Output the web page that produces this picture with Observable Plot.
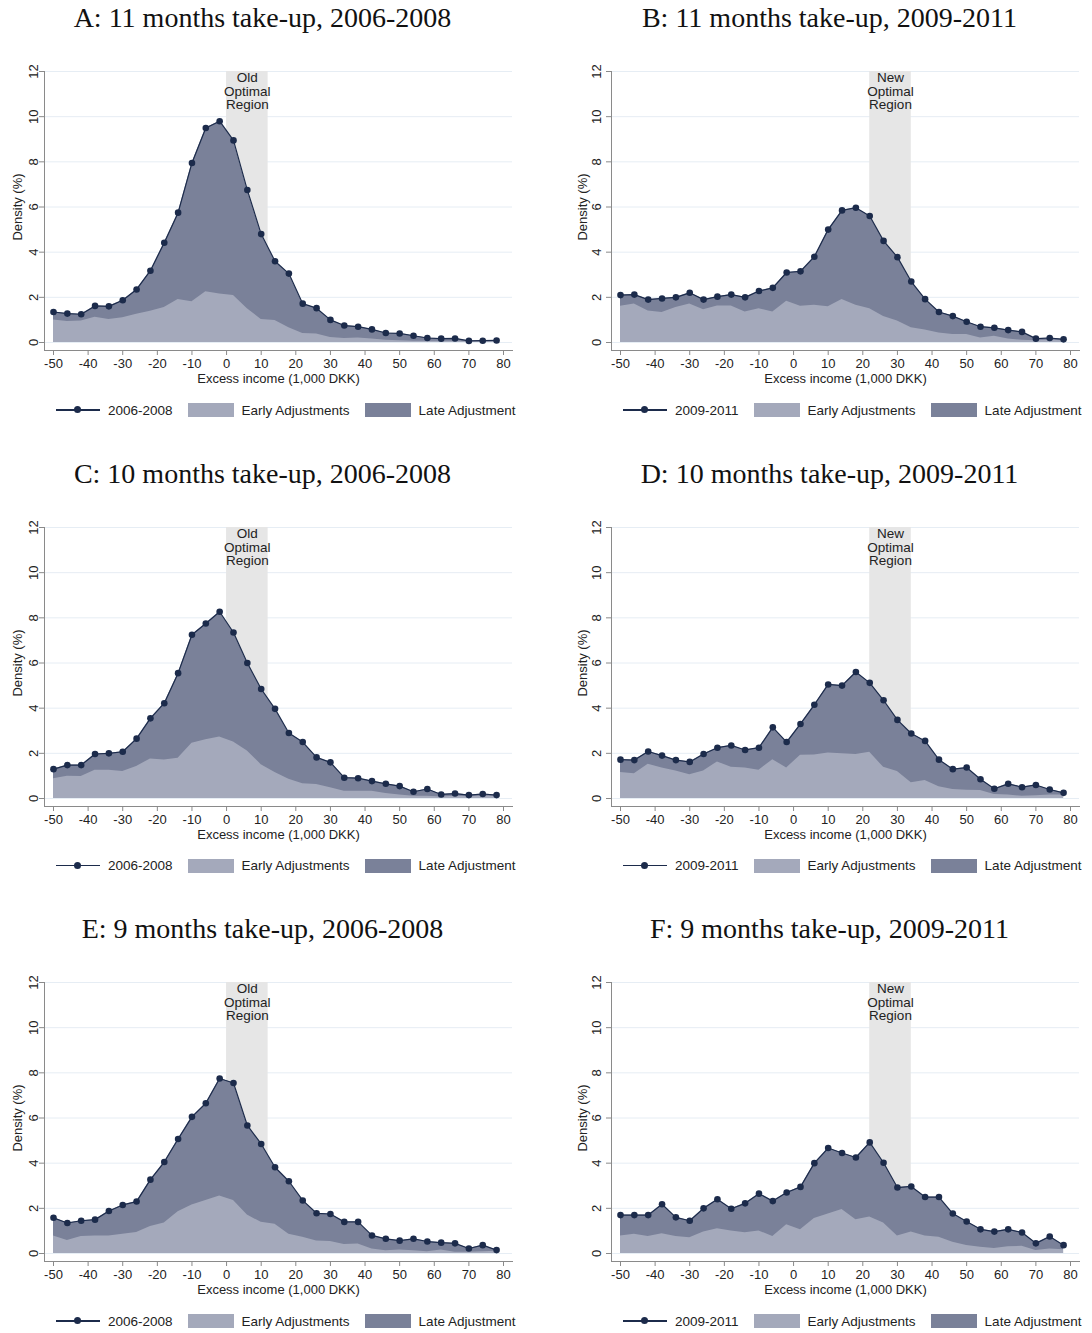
<!DOCTYPE html>
<html>
<head>
<meta charset="utf-8">
<script src="https://cdn.jsdelivr.net/npm/d3@7"></script>
<script src="https://cdn.jsdelivr.net/npm/@observablehq/plot@0.6"></script>
<style>
  body { margin: 0; background: #fff; font-family: "Liberation Sans", Arial, sans-serif; }
  #grid { position: relative; width: 1092px; height: 1333px; }
  .panel { position: absolute; width: 525px; }
  .title { font-family: "Liberation Serif", serif; font-size: 28px; text-align: center; height: 45px; line-height: 36px; color: #111; }
  .legend { display: flex; align-items: center; height: 16px; margin-top: 10px; margin-left: 56px; font-size: 13.5px; color: #222; white-space: nowrap; }
  .sym-line { position: relative; width: 44px; height: 1.4px; background: #1c2b4b; margin-right: 8px; }
  .sym-line::after { content: ""; position: absolute; left: 18px; top: -3.3px; width: 7px; height: 7px; border-radius: 50%; background: #1c2b4b; }
  .sw { width: 46px; height: 14px; margin: 0 8px 0 15px; }
</style>
</head>
<body>
<div id="grid"></div>
<script>
// bins of excess income (1,000 DKK)
const bins = [-50,-46,-42,-38,-34,-30,-26,-22,-18,-14,-10,-6,-2,2,6,10,14,18,22,26,30,34,38,42,46,50,54,58,62,66,70,74,78]
const xTicks = [-50,-40,-30,-20,-10,0,10,20,30,40,50,60,70,80]
const yTicks = [0,2,4,6,8,10,12]
const oldRegion = [0, 12]
const newRegion = [22, 34]

// A: 11 months, 2006-2008
const totalA = [1.35,1.28,1.25,1.62,1.6,1.87,2.35,3.18,4.42,5.75,7.95,9.5,9.8,8.95,6.75,4.8,3.6,3.05,1.72,1.52,1.0,0.75,0.7,0.58,0.42,0.4,0.3,0.2,0.17,0.18,0.07,0.08,0.09]
const earlyA = [1.0,0.93,0.95,1.12,1.02,1.1,1.25,1.38,1.55,1.9,1.8,2.25,2.15,2.08,1.5,1.02,0.97,0.65,0.4,0.38,0.22,0.18,0.2,0.15,0.1,0.08,0.05,0.05,0.05,0.05,0.04,0.04,0.05]
// B: 11 months, 2009-2011
const totalB = [2.1,2.12,1.9,1.95,2.0,2.2,1.9,2.03,2.12,2.0,2.28,2.42,3.1,3.15,3.8,5.0,5.85,5.97,5.6,4.5,3.78,2.7,1.92,1.35,1.17,0.92,0.7,0.65,0.55,0.47,0.17,0.2,0.14]
const earlyB = [1.6,1.7,1.4,1.33,1.55,1.7,1.45,1.62,1.62,1.35,1.5,1.35,1.83,1.6,1.65,1.58,1.9,1.65,1.5,1.15,0.95,0.65,0.55,0.42,0.35,0.35,0.2,0.28,0.15,0.1,0.08,0.1,0.08]
// C: 10 months, 2006-2008
const totalC = [1.3,1.48,1.48,1.97,2.0,2.07,2.65,3.55,4.22,5.55,7.25,7.75,8.27,7.35,6.0,4.85,3.97,2.9,2.5,1.82,1.6,0.92,0.9,0.77,0.65,0.55,0.3,0.42,0.18,0.22,0.15,0.2,0.15]
const earlyC = [0.88,0.98,0.97,1.25,1.25,1.2,1.42,1.75,1.7,1.78,2.45,2.6,2.72,2.5,2.1,1.5,1.15,0.85,0.65,0.62,0.48,0.32,0.32,0.32,0.22,0.15,0.1,0.1,0.07,0.1,0.08,0.1,0.1]
// D: 10 months, 2009-2011
const totalD = [1.72,1.7,2.08,1.9,1.7,1.62,1.97,2.25,2.35,2.15,2.25,3.15,2.5,3.3,4.15,5.05,5.0,5.6,5.12,4.35,3.48,2.88,2.55,1.72,1.3,1.37,0.85,0.43,0.65,0.5,0.6,0.4,0.25]
const earlyD = [1.15,1.1,1.52,1.35,1.22,1.05,1.22,1.62,1.38,1.35,1.25,1.72,1.35,1.92,1.93,2.02,1.98,1.95,2.05,1.38,1.2,0.7,0.8,0.52,0.4,0.37,0.35,0.18,0.15,0.1,0.12,0.15,0.15]
// E: 9 months, 2006-2008
const totalE = [1.58,1.35,1.45,1.5,1.88,2.15,2.3,3.27,4.05,5.07,6.05,6.65,7.75,7.55,5.67,4.85,3.82,3.2,2.35,1.78,1.75,1.4,1.4,0.8,0.65,0.57,0.65,0.53,0.48,0.45,0.22,0.37,0.15]
const earlyE = [0.78,0.58,0.75,0.77,0.77,0.85,0.93,1.2,1.35,1.85,2.15,2.35,2.55,2.35,1.7,1.38,1.3,0.85,0.72,0.55,0.53,0.4,0.42,0.2,0.12,0.15,0.12,0.08,0.15,0.05,0.05,0.08,0.1]
// F: 9 months, 2009-2011
const totalF = [1.7,1.7,1.7,2.18,1.6,1.45,2.0,2.4,1.98,2.22,2.65,2.32,2.7,2.95,4.0,4.67,4.45,4.25,4.92,4.02,2.92,2.97,2.5,2.5,1.77,1.42,1.07,0.97,1.07,0.93,0.45,0.75,0.37]
const earlyF = [0.78,0.85,0.75,0.88,0.75,0.7,0.95,1.1,1.0,0.92,1.0,0.75,1.27,1.05,1.55,1.75,1.95,1.5,1.62,1.35,0.78,0.95,0.78,0.72,0.5,0.35,0.28,0.22,0.3,0.32,0.13,0.2,0.17]

const panels = [
  {title: "A: 11 months take-up, 2006-2008", total: totalA, early: earlyA, period: "2006-2008", region: oldRegion, label: "Old\nOptimal\nRegion"},
  {title: "B: 11 months take-up, 2009-2011", total: totalB, early: earlyB, period: "2009-2011", region: newRegion, label: "New\nOptimal\nRegion"},
  {title: "C: 10 months take-up, 2006-2008", total: totalC, early: earlyC, period: "2006-2008", region: oldRegion, label: "Old\nOptimal\nRegion"},
  {title: "D: 10 months take-up, 2009-2011", total: totalD, early: earlyD, period: "2009-2011", region: newRegion, label: "New\nOptimal\nRegion"},
  {title: "E: 9 months take-up, 2006-2008", total: totalE, early: earlyE, period: "2006-2008", region: oldRegion, label: "Old\nOptimal\nRegion"},
  {title: "F: 9 months take-up, 2009-2011", total: totalF, early: earlyF, period: "2009-2011", region: newRegion, label: "New\nOptimal\nRegion"}
]

const navy = "#1c2b4b"
const darkFill = "#7a8199"
const lightFill = "#a4a9bb"
const regionFill = "#e6e6e6"

const grid = d3.select("#grid")

panels.forEach((p, i) => {
  const rows = bins.map((x, j) => ({x, total: p.total[j], early: p.early[j]}))
  const col = i % 2, row = Math.floor(i / 2)

  const chart = Plot.plot({
    width: 525,
    height: 347,
    marginTop: 26,
    marginBottom: 42,
    marginLeft: 44,
    marginRight: 13,
    x: {domain: [-50, 80], insetLeft: 9, insetRight: 9},
    y: {domain: [0, 12], insetBottom: 8},
    style: {fontFamily: "Liberation Sans, Arial, sans-serif", fontSize: "13px", color: "#222", background: "#fff"},
    marks: [
      Plot.gridY(yTicks, {stroke: "#e6edf4", strokeOpacity: 1}),
      Plot.rect([p.region], {x1: d => d[0], x2: d => d[1], y1: 0, y2: 12, fill: regionFill}),
      Plot.areaY(rows, {x: "x", y: "total", fill: darkFill}),
      Plot.areaY(rows, {x: "x", y: "early", fill: lightFill}),
      Plot.line(rows, {x: "x", y: "total", stroke: navy, strokeWidth: 1.2}),
      Plot.dot(rows, {x: "x", y: "total", r: 3.3, fill: navy}),
      Plot.text([p.region], {x: d => (d[0] + d[1]) / 2, y: 12, text: () => p.label, lineAnchor: "top", dy: 1, fontSize: 13.5, lineHeight: 1, fill: "#222"}),
      Plot.frame({anchor: "bottom", stroke: "#8a8a8a"}),
      Plot.frame({anchor: "left", stroke: "#8a8a8a"}),
      Plot.axisX({ticks: xTicks, tickSize: 5, tickPadding: 3, stroke: "#8a8a8a", tickFormat: d => String(d), label: null}),
      Plot.axisY({ticks: yTicks, tickSize: 5, tickPadding: col ? 6 : 2, tickRotate: -90, stroke: "#8a8a8a", tickFormat: d => String(d), label: null}),
      Plot.text([6], {y: d => d, text: () => "Density (%)", frameAnchor: "left", textAnchor: "middle", dx: col ? -29 : -27, rotate: -90, fontSize: 13, fill: "#222"}),
      Plot.text(["Excess income (1,000 DKK)"], {frameAnchor: "bottom", dy: 32, fontSize: 13, fill: "#222"})
    ]
  })

  const panel = grid.append("div").attr("class", "panel")
    .style("left", (col * 567) + "px")
    .style("top", (row * 455.5) + "px")
  panel.append("div").attr("class", "title").text(p.title)
  panel.append(() => chart)
  const legend = panel.append("div").attr("class", "legend")
  legend.append("span").attr("class", "sym-line")
  legend.append("span").text(p.period)
  legend.append("span").attr("class", "sw").style("background", lightFill)
  legend.append("span").text("Early Adjustments")
  legend.append("span").attr("class", "sw").style("background", darkFill)
  legend.append("span").text("Late Adjustment")
})
</script>
</body>
</html>
